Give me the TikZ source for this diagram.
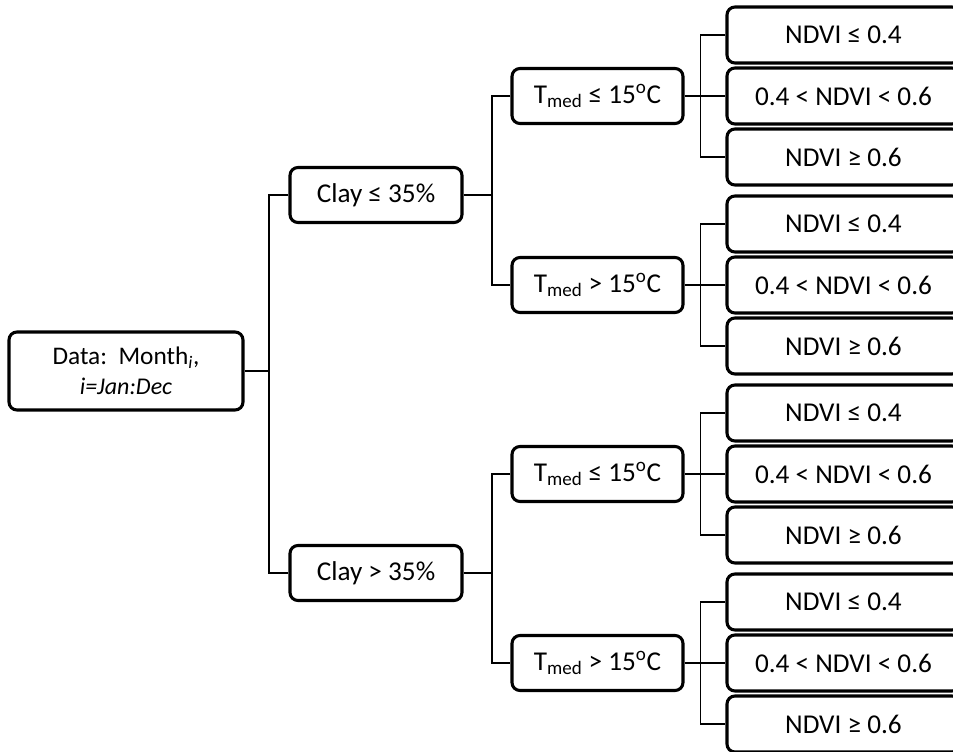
\documentclass[tikz,border=0pt]{standalone}
\usepackage{fontspec}
\setmainfont{Carlito}
\begin{document}
\begin{tikzpicture}[x=0.75pt,y=-0.75pt,
  box/.style={draw=black,line width=2.3pt,rounded corners=6pt,fill=white,
    inner sep=0pt,align=center,font=\fontsize{20.4}{23}\selectfont},
  rootbox/.style={box,minimum width=175.5pt,minimum height=58.5pt},
  claybox/.style={box,minimum width=129pt,minimum height=41.25pt},
  tbox/.style={box,minimum width=128.25pt,minimum height=41.25pt},
  nbox/.style={box,minimum width=174.75pt,minimum height=42pt},
  conn/.style={draw=black,line width=1.1pt}]
\path[use as bounding box] (0,0) rectangle (953,752);
\clip (0,0) rectangle (953,752);
\newcommand{\tmed}{T\textsubscript{med}}
\newcommand{\degc}{15\textsuperscript{o}C}
% root
\node[rootbox,font=\fontsize{19}{21}\selectfont] (root) at (126,371) {Data:\hspace{0.45em}Month\textsubscript{\itshape i},\\[1.5pt]{\itshape\fontsize{18}{20}\selectfont i=Jan:Dec}};
% clay
\node[claybox] (c1) at (376,195) {Clay ≤ 35\%};
\node[claybox] (c2) at (376,573) {Clay > 35\%};
% temperature
\node[tbox] (t1) at (597.5,96) {\tmed{} ≤ \degc};
\node[tbox] (t2) at (597.5,285) {\tmed{} > \degc};
\node[tbox] (t3) at (597.5,474) {\tmed{} ≤ \degc};
\node[tbox] (t4) at (597.5,663) {\tmed{} > \degc};
% ndvi
\foreach \g/\y in {1/35,2/224,3/413,4/602}{
  \node[nbox] (n\g a) at (843.5,\y) {NDVI ≤ 0.4};
  \node[nbox] (n\g b) at (843.5,\y+61) {0.4 < NDVI < 0.6};
  \node[nbox] (n\g c) at (843.5,\y+122) {NDVI ≥ 0.6};
}
% connectors
\coordinate (j0) at (269,371);
\draw[conn] (root.east) -- (j0);
\draw[conn] (c1.west) -| (j0) |- (c2.west);
\coordinate (j1) at (492,195);
\coordinate (j2) at (492,573);
\draw[conn] (c1.east) -- (j1);
\draw[conn] (t1.west) -| (j1) |- (t2.west);
\draw[conn] (c2.east) -- (j2);
\draw[conn] (t3.west) -| (j2) |- (t4.west);
\foreach \t/\g in {t1/1,t2/2,t3/3,t4/4}{
  \draw[conn] (\t.east) -- (n\g b.west);
  \draw[conn] (n\g a.west) -| ([xshift=-18.75pt]n\g b.west) |- (n\g c.west);
}
\end{tikzpicture}
\end{document}
